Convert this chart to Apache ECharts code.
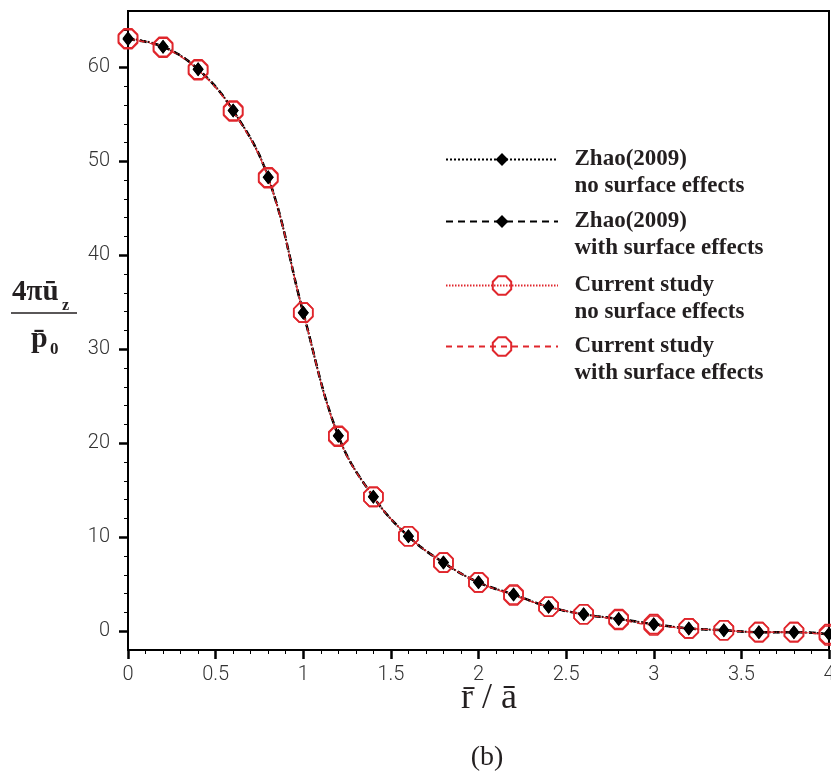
<!DOCTYPE html>
<html>
<head>
<meta charset="utf-8">
<script src="https://cdn.jsdelivr.net/npm/echarts@6/dist/echarts.min.js"></script>
<style>
  html, body { margin: 0; padding: 0; background: #fff; }
  #chart { width: 831px; height: 777px; }
</style>
</head>
<body>
<div id="chart"></div>
<script>
// Radial coordinate r/a
const rOverA = [0, 0.2, 0.4, 0.6, 0.8, 1.0, 1.2, 1.4, 1.6, 1.8, 2.0,
                2.2, 2.4, 2.6, 2.8, 3.0, 3.2, 3.4, 3.6, 3.8, 4.0];

// Normalised surface displacement 4*pi*u_z / p_0
const zhaoNoSurface   = [63.1, 62.2, 59.8, 55.4, 48.3, 33.9, 20.8, 14.3, 10.1, 7.3, 5.2,
                         3.9, 2.6, 1.8, 1.3, 0.75, 0.3, 0.1, -0.1, -0.1, -0.3];
const zhaoWithSurface = [63.0, 62.2, 59.8, 55.4, 48.3, 33.9, 20.8, 14.3, 10.1, 7.3, 5.2,
                         3.9, 2.6, 1.8, 1.3, 0.75, 0.3, 0.1, -0.1, -0.1, -0.3];
const currNoSurface   = [63.1, 62.2, 59.8, 55.4, 48.3, 33.9, 20.8, 14.3, 10.1, 7.3, 5.2,
                         3.9, 2.6, 1.8, 1.3, 0.75, 0.3, 0.1, -0.1, -0.1, -0.3];
const currWithSurface = [63.0, 62.1, 59.7, 55.3, 48.2, 33.9, 20.7, 14.3, 10.1, 7.3, 5.2,
                         3.8, 2.6, 1.8, 1.2, 0.6, 0.3, 0.1, -0.1, -0.1, -0.45];

const seriesNames = [
  'Zhao(2009)\nno surface effects',
  'Zhao(2009)\nwith surface effects',
  'Current study\nno surface effects',
  'Current study\nwith surface effects'
];

// Axis ticks
const yMajorTicks = [0, 10, 20, 30, 40, 50, 60];
const yMinorTicks = [2, 4, 6, 8, 12, 14, 16, 18, 22, 24, 26, 28, 32, 34, 36, 38,
                     42, 44, 46, 48, 52, 54, 56, 58, 62, 64];

const RED = '#e0262c';
const INK = '#231f20';
const octagon = 'path://M-38.3,-92.4L38.3,-92.4L92.4,-38.3L92.4,38.3L38.3,92.4L-38.3,92.4L-92.4,38.3L-92.4,-38.3Z';

function pairs(vals) {
  return rOverA.map((x, i) => [x, vals[i]]);
}

const tickFont = {
  fontFamily: "Roboto, 'Liberation Sans', sans-serif",
  fontWeight: 300,
  fontSize: 20,
  color: '#333'
};

// Legend label: a blank first line keeps the icon level with the first text line
function legendLabel(name) {
  return ' \n' + name.split('\n').map(s => '  ' + s).join('\n');
}

function legendFor(name, top, itemHeight) {
  return {
    data: [name],
    left: 445,
    top: top,
    orient: 'vertical',
    padding: 0,
    itemWidth: 112,
    itemHeight: itemHeight,
    itemGap: 0,
    selectedMode: false,
    formatter: legendLabel,
    textStyle: {
      fontFamily: "'Liberation Serif', serif",
      fontWeight: 'bold',
      fontSize: 23,
      lineHeight: 27,
      color: INK
    }
  };
}

const chart = echarts.init(document.getElementById('chart'), null, { renderer: 'canvas' });

chart.setOption({
  animation: false,
  backgroundColor: '#fff',
  grid: {
    left: 128, right: 2, top: 11, bottom: 127,
    containLabel: false, outerBoundsMode: 'none',
    show: true, borderColor: '#000', borderWidth: 2, backgroundColor: 'transparent'
  },
  legend: [
    legendFor(seriesNames[0], 119, 16),
    legendFor(seriesNames[1], 181, 16),
    legendFor(seriesNames[2], 245, 23),
    legendFor(seriesNames[3], 306, 23)
  ],
  xAxis: {
    type: 'value',
    min: 0, max: 4, interval: 0.5,
    axisLine: { show: true, onZero: false, lineStyle: { color: '#000', width: 2 } },
    axisTick: { show: true, inside: false, length: 9, lineStyle: { color: '#000', width: 2.5 } },
    minorTick: { show: true, splitNumber: 5, length: 4, lineStyle: { color: '#000', width: 1 } },
    splitLine: { show: false },
    axisLabel: Object.assign({ margin: 15, showMaxLabel: true, showMinLabel: true }, tickFont)
  },
  yAxis: [
    {
      type: 'value',
      min: -2, max: 66,
      axisLine: { show: true, onZero: false, lineStyle: { color: '#000', width: 2 } },
      axisTick: { show: true, inside: false, length: 9, customValues: yMajorTicks,
                  lineStyle: { color: '#000', width: 2.5 } },
      splitLine: { show: false },
      axisLabel: Object.assign({ margin: 18, customValues: yMajorTicks }, tickFont)
    },
    {
      type: 'value',
      min: -2, max: 66,
      position: 'left',
      axisLine: { show: false },
      axisTick: { show: true, inside: false, length: 4, customValues: yMinorTicks,
                  lineStyle: { color: '#000', width: 1 } },
      splitLine: { show: false },
      axisLabel: { show: false }
    }
  ],
  series: [
    {
      name: seriesNames[0], type: 'line', data: pairs(zhaoNoSurface),
      smooth: 0.4,
      symbol: 'diamond', symbolSize: [11, 14],
      lineStyle: { color: '#000', width: 2, type: [2, 2] },
      itemStyle: { color: '#000' }
    },
    {
      name: seriesNames[1], type: 'line', data: pairs(zhaoWithSurface),
      smooth: 0.4,
      symbol: 'diamond', symbolSize: [11, 14],
      lineStyle: { color: '#000', width: 2.5, type: [7, 5] },
      itemStyle: { color: '#000' }
    },
    {
      name: seriesNames[2], type: 'line', data: pairs(currNoSurface),
      smooth: 0.4,
      symbol: octagon, symbolSize: 19,
      lineStyle: { color: RED, width: 1, type: [1.5, 1.5] },
      itemStyle: { color: 'rgba(255,255,255,0)', borderColor: RED, borderWidth: 1.6 }
    },
    {
      name: seriesNames[3], type: 'line', data: pairs(currWithSurface),
      smooth: 0.4,
      symbol: octagon, symbolSize: 19,
      lineStyle: { color: RED, width: 1.2, type: [6, 5] },
      itemStyle: { color: 'rgba(255,255,255,0)', borderColor: RED, borderWidth: 1.6 }
    }
  ],
  graphic: [
    // y-axis title as a fraction: 4*pi*u_z over p_0
    { type: 'text', left: 12, top: 278,
      style: { text: '4πū', font: "bold 29px 'Liberation Serif', serif", fill: INK } },
    { type: 'text', left: 62, top: 298,
      style: { text: 'z', font: "bold 16px 'Liberation Serif', serif", fill: INK } },
    { type: 'line', shape: { x1: 11, y1: 313, x2: 77, y2: 313 },
      style: { stroke: INK, lineWidth: 1.5 } },
    { type: 'text', left: 31, top: 324,
      style: { text: 'p\u0304', font: "bold 30px 'Liberation Serif', serif", fill: INK } },
    { type: 'text', left: 50, top: 341,
      style: { text: '0', font: "bold 17px 'Liberation Serif', serif", fill: INK } },
    // x-axis title
    { type: 'text', x: 489, y: 699,
      style: { text: 'r\u0304 / a\u0304', font: "36px 'Liberation Serif', serif", fill: INK,
               align: 'center', verticalAlign: 'middle' } },
    // panel label
    { type: 'text', x: 487, y: 758,
      style: { text: '(b)', font: "28px 'Liberation Serif', serif", fill: INK,
               align: 'center', verticalAlign: 'middle' } }
  ]
});
</script>
</body>
</html>
